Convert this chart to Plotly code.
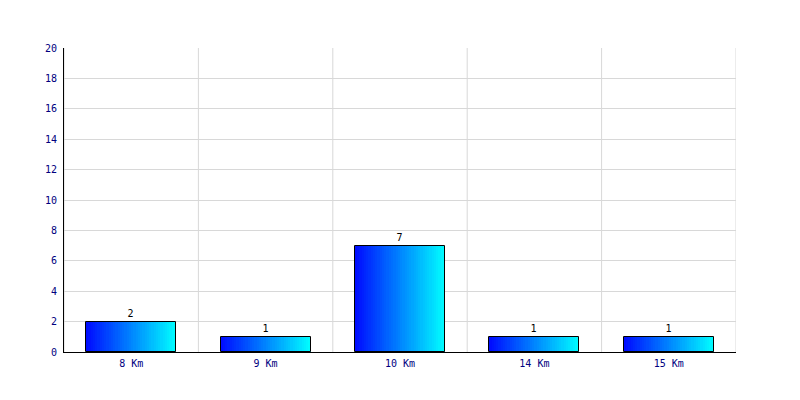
import plotly.graph_objects as go

categories = ["8 Km", "9 Km", "10 Km", "14 Km", "15 Km"]
values = [2, 1, 7, 1, 1]
y_ticks = list(range(0, 21, 2))

x_pos = list(range(len(categories)))
bar_w = 0.67
n_slices = 40
font = "DejaVu Sans Mono"
navy = "#000080"

fig = go.Figure()
for i in range(n_slices):
    t = (i + 0.5) / n_slices
    g = int(round(10 + t * (245)))
    color = f"rgb(0,{g},255)"
    fig.add_trace(go.Bar(
        x=x_pos, y=values, width=bar_w / n_slices,
        offset=-bar_w / 2 + i * bar_w / n_slices,
        marker=dict(color=color, line=dict(width=0)),
        hoverinfo="skip", showlegend=False,
    ))

# outline + value labels
fig.add_trace(go.Bar(
    x=x_pos, y=values, width=bar_w, offset=-bar_w / 2,
    marker=dict(color="rgba(0,0,0,0)", line=dict(color="black", width=1)),
    text=[str(v) for v in values], textposition="outside",
    textfont=dict(family=font, size=10, color="black"),
    cliponaxis=False, showlegend=False,
))

# vertical grid lines at category boundaries
for k in range(len(categories) + 1):
    fig.add_shape(type="line", xref="x", yref="paper",
                  x0=-0.5 + k, x1=-0.5 + k, y0=0, y1=1,
                  line=dict(color="#d8d8d8", width=1), layer="below")

fig.update_layout(
    width=792, height=392,
    margin=dict(l=56, r=64, t=40, b=48),
    plot_bgcolor="white", paper_bgcolor="white",
    barmode="overlay", bargap=0,
    font=dict(family=font, size=10, color=navy),
)
fig.update_xaxes(
    range=[-0.5, len(categories) - 0.5],
    tickvals=x_pos, ticktext=categories,
    showgrid=False, showline=True, linecolor="black", linewidth=1,
    ticks="", ticklen=0, ticklabelstandoff=2,
    tickfont=dict(family=font, size=10, color=navy),
    zeroline=False,
)
fig.update_yaxes(
    range=[0, 20], tickvals=y_ticks,
    showgrid=True, gridcolor="#d8d8d8", gridwidth=1,
    showline=True, linecolor="black", linewidth=1,
    ticks="", zeroline=False, ticklabelstandoff=4,
    tickfont=dict(family=font, size=10, color=navy),
)

fig.write_html("out.html")
